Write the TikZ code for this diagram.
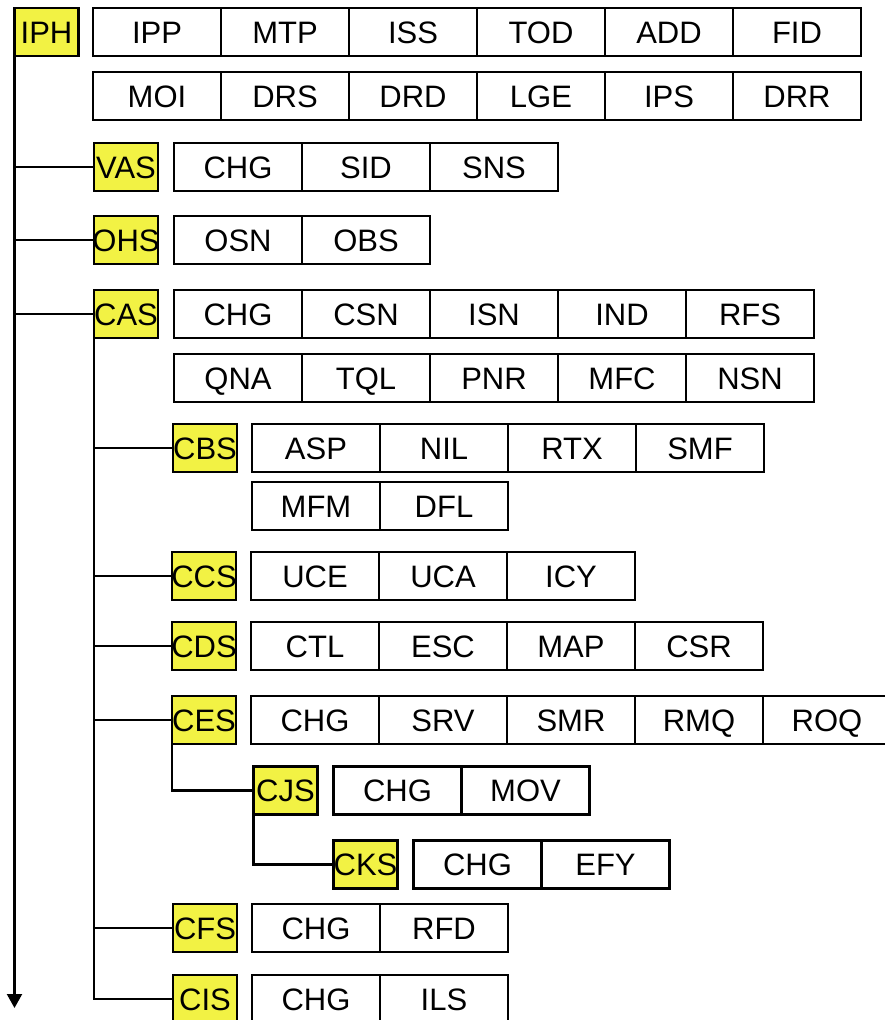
\documentclass[tikz,border=0pt]{standalone}
\usepackage{fontspec}
\setmainfont{Liberation Sans}
\usepackage{xcolor}
\usepackage{tikz}
\usetikzlibrary{arrows.meta,positioning}
\definecolor{TagYellow}{HTML}{F2F244}
\tikzset{
  % Base box
  BX/.style={rectangle,draw,line width=2.2pt,minimum height=48pt,
             inner sep=0pt,outer sep=0pt,text centered,
             text height=22pt,text depth=0pt,
             font=\fontsize{31}{36}\selectfont},
  % Section tag (yellow)
  TG/.style={BX,fill=TagYellow,minimum width=64pt,inner xsep=-6pt},
  % Field cell
  CL/.style={BX,fill=white,minimum width=128pt},
  % Connector
  ln/.style={line width=2.2pt},
  arr/.style={line width=2.2pt,-{Triangle[length=14pt,width=15pt]}}
}
\begin{document}
\begin{tikzpicture}[x=1pt,y=-1pt,node distance=0pt]
  \useasboundingbox (0,0) rectangle (884,1020);
  % top level
  \node[TG] (iph) at (46.5,32) {IPH};
  \node[CL,right=14.5pt of iph] (ipp) {IPP};
  \node[CL,right=of ipp] (mtp) {MTP};
  \node[CL,right=of mtp] (iss) {ISS};
  \node[CL,right=of iss] (tod) {TOD};
  \node[CL,right=of tod] (add) {ADD};
  \node[CL,right=of add] (fid) {FID};
  \node[CL,below=16pt of ipp] (moi) {MOI};
  \node[CL,right=of moi] (drs) {DRS};
  \node[CL,right=of drs] (drd) {DRD};
  \node[CL,right=of drd] (lge) {LGE};
  \node[CL,right=of lge] (ips) {IPS};
  \node[CL,right=of ips] (drr) {DRR};
  % VAS
  \node[TG] (vas) at (126,167) {VAS};
  \node[CL,right=16pt of vas] (vaschg) {CHG};
  \node[CL,right=of vaschg] (sid) {SID};
  \node[CL,right=of sid] (sns) {SNS};
  % OHS
  \node[TG] (ohs) at (126,240) {OHS};
  \node[CL,right=16pt of ohs] (osn) {OSN};
  \node[CL,right=of osn] (obs) {OBS};
  % CAS
  \node[TG] (cas) at (126,314) {CAS};
  \node[CL,right=16pt of cas] (caschg) {CHG};
  \node[CL,right=of caschg] (csn) {CSN};
  \node[CL,right=of csn] (isn) {ISN};
  \node[CL,right=of isn] (ind) {IND};
  \node[CL,right=of ind] (rfs) {RFS};
  \node[CL,below=16pt of caschg] (qna) {QNA};
  \node[CL,right=of qna] (tql) {TQL};
  \node[CL,right=of tql] (pnr) {PNR};
  \node[CL,right=of pnr] (mfc) {MFC};
  \node[CL,right=of mfc] (nsn) {NSN};
  % CBS
  \node[TG] (cbs) at (205,448) {CBS};
  \node[CL,right=15pt of cbs] (asp) {ASP};
  \node[CL,right=of asp] (nil) {NIL};
  \node[CL,right=of nil] (rtx) {RTX};
  \node[CL,right=of rtx] (smf) {SMF};
  \node[CL,below=10pt of asp] (mfm) {MFM};
  \node[CL,right=of mfm] (dfl) {DFL};
  % CCS
  \node[TG] (ccs) at (204,576) {CCS};
  \node[CL,right=15pt of ccs] (uce) {UCE};
  \node[CL,right=of uce] (uca) {UCA};
  \node[CL,right=of uca] (icy) {ICY};
  % CDS
  \node[TG] (cds) at (204,646) {CDS};
  \node[CL,right=15pt of cds] (ctl) {CTL};
  \node[CL,right=of ctl] (esc) {ESC};
  \node[CL,right=of esc] (map) {MAP};
  \node[CL,right=of map] (csr) {CSR};
  % CES
  \node[TG] (ces) at (204,720) {CES};
  \node[CL,right=15pt of ces] (ceschg) {CHG};
  \node[CL,right=of ceschg] (srv) {SRV};
  \node[CL,right=of srv] (smr) {SMR};
  \node[CL,right=of smr] (rmq) {RMQ};
  \node[CL,right=of rmq] (roq) {ROQ};
  % CJS
  \node[TG] (cjs) at (285.5,790.5) {CJS};
  \node[CL,right=16pt of cjs] (cjschg) {CHG};
  \node[CL,right=of cjschg] (mov) {MOV};
  % CKS
  \node[TG] (cks) at (365.5,864.5) {CKS};
  \node[CL,right=16pt of cks] (ckschg) {CHG};
  \node[CL,right=of ckschg] (efy) {EFY};
  % CFS
  \node[TG] (cfs) at (205,928) {CFS};
  \node[CL,right=15pt of cfs] (cfschg) {CHG};
  \node[CL,right=of cfschg] (rfd) {RFD};
  % CIS
  \node[TG] (cis) at (205,999) {CIS};
  \node[CL,right=15pt of cis] (cischg) {CHG};
  \node[CL,right=of cischg] (ils) {ILS};
  % trunk and branches
  \coordinate (tend) at (iph.south west |- 0,1008);
  \draw[arr] (iph.south west) -- (tend);
  \draw[ln] (iph.south west |- vas.west) -- (vas.west);
  \draw[ln] (iph.south west |- ohs.west) -- (ohs.west);
  \draw[ln] (iph.south west |- cas.west) -- (cas.west);
  \draw[ln] (cas.south west) |- (cis.west);
  \draw[ln] (cas.south west |- cbs.west) -- (cbs.west);
  \draw[ln] (cas.south west |- ccs.west) -- (ccs.west);
  \draw[ln] (cas.south west |- cds.west) -- (cds.west);
  \draw[ln] (cas.south west |- ces.west) -- (ces.west);
  \draw[ln] (cas.south west |- cfs.west) -- (cfs.west);
  \draw[ln] (ces.south west) |- (cjs.west);
  \draw[ln] (cjs.south west) |- (cks.west);
\end{tikzpicture}
\end{document}
